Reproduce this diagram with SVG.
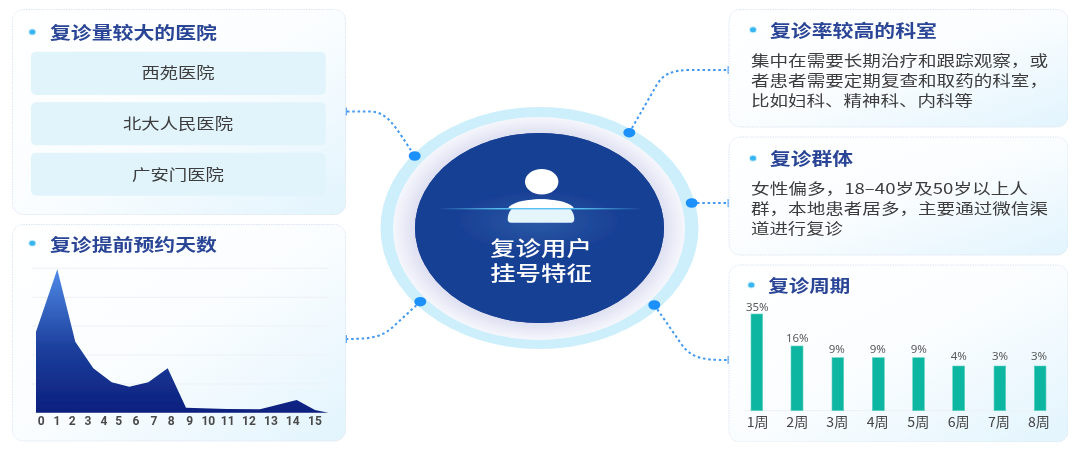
<svg xmlns="http://www.w3.org/2000/svg" width="1080" height="452" viewBox="0 0 1080 452">
<style>
text{font-family:"Noto Sans CJK SC","Noto Sans",sans-serif;}
text.hubt{font-family:"Liberation Sans","Noto Sans CJK SC",sans-serif;font-size:20px;fill:#ffffff;text-anchor:middle;font-weight:500;}
.card{fill:url(#cardG);stroke:#dce5f2;stroke-width:1;stroke-dasharray:1.5 1;}
.row{fill:#e1f4fc;}
.title{font-size:17px;font-weight:700;fill:#2a4596;dominant-baseline:central;}
.body{font-size:15px;fill:#3c3c3c;dominant-baseline:central;}
.rowt{font-size:15px;fill:#3c3c3c;text-anchor:middle;dominant-baseline:central;}
.bullet{fill:#38b6f1;stroke:#38b6f1;stroke-opacity:.25;stroke-width:2;}
.grid{stroke:#eef1f4;stroke-width:1;}
text.ax{font-family:"Roboto","Liberation Sans",sans-serif;font-size:12px;font-weight:700;fill:#4a4a4a;text-anchor:middle;dominant-baseline:central;}
.bar{fill:#10b6a0;stroke:#5fd4c4;stroke-width:.6;}
text.pct{font-family:"Noto Sans",sans-serif;font-size:11.500px;fill:#5a5a5a;text-anchor:middle;dominant-baseline:central;}
.wk{font-size:13.500px;fill:#444;text-anchor:middle;dominant-baseline:central;}
.link{fill:none;stroke:#3f98f2;stroke-width:2;stroke-dasharray:2.500 2.800;}
.tick{fill:#62aaf8;}
.dot{fill:#1f90fb;}
</style>
<defs>
<linearGradient id="cardG" x1="0" y1="0" x2="1" y2="1"><stop offset="0" stop-color="#ffffff"/><stop offset=".5" stop-color="#fafdff"/><stop offset="1" stop-color="#e2f4fd"/></linearGradient>
<linearGradient id="areaG" x1="0" y1="0" x2="0" y2="1"><stop offset="0" stop-color="#4f8ae8"/><stop offset=".55" stop-color="#1c3f9c"/><stop offset="1" stop-color="#0c1f7e"/></linearGradient>
<radialGradient id="midG" cx=".5" cy=".5" r=".5"><stop offset="0" stop-color="#c9cce6"/><stop offset=".82" stop-color="#d9dbef"/><stop offset="1" stop-color="#f6f7fc"/></radialGradient>
<radialGradient id="glow" cx="539" cy="222" r="85" gradientUnits="userSpaceOnUse" gradientTransform="translate(539 222) scale(1 .38) translate(-539 -222)"><stop offset="0" stop-color="#2a5aa6"/><stop offset="1" stop-color="#183f94"/></radialGradient>
<linearGradient id="beam"><stop offset="0" stop-color="#54c0f0" stop-opacity="0"/><stop offset=".3" stop-color="#54c0f0"/><stop offset=".7" stop-color="#54c0f0"/><stop offset="1" stop-color="#54c0f0" stop-opacity="0"/></linearGradient>
<filter id="soft" x="0" y="0" width="100%" height="100%"><feGaussianBlur stdDeviation="0.45"/></filter>
</defs>
<rect width="1080" height="452" fill="#ffffff"/>
<g filter="url(#soft)">
<g id="connectors">
<path class="link" d="M347 111.500H370C388 111.500 396 128 414.700 156"/>
<path class="link" d="M629.300 132.700L655 88C662 74 672 70 690 70H728"/>
<path class="link" d="M691.700 203H728"/>
<path class="link" d="M654.300 305L682 345C692 358 702 360 728 360"/>
<path class="link" d="M420.300 301.700L395 325C383 337 372 339 347 339"/>
<rect class="tick" x="344.500" y="107.500" width="2.500" height="8"/>
<rect class="tick" x="344.500" y="335" width="2.500" height="8"/>
<rect class="tick" x="727.500" y="66" width="2.500" height="8"/>
<rect class="tick" x="727.500" y="199" width="2.500" height="8"/>
<rect class="tick" x="727.500" y="356" width="2.500" height="8"/>
</g>
<g id="hub">
<ellipse cx="539.500" cy="228" rx="159" ry="121" fill="#cdeffc"/>
<ellipse cx="539" cy="228.500" rx="146" ry="111.500" fill="url(#midG)"/>
<ellipse cx="539.500" cy="228" rx="124.500" ry="95" fill="#183f94"/>
<ellipse cx="539.500" cy="228" rx="124.500" ry="95" fill="url(#glow)"/>
<ellipse cx="541.700" cy="181.700" rx="16.700" ry="12.700" fill="#ffffff"/>
<path d="M507.700 219C507.700 208 520 199.300 541 199.300C562 199.300 574.300 208 574.300 219Q574.300 222.700 571 222.700H511Q507.700 222.700 507.700 219Z" fill="#e4f5fc"/>
<path d="M507.700 208.700C511 203 523 199.300 541 199.300C559 199.300 571 203 574.300 208.700Z" fill="#ffffff"/>
<rect x="437" y="208" width="206" height="1.400" fill="url(#beam)"/>
<text class="hubt" transform="translate(541 0) scale(1.270 1)"><tspan x="0" y="256.500">复诊用户</tspan><tspan x="0" y="281">挂号特征</tspan></text>
</g>
<g id="dots">
<ellipse class="dot" cx="414.700" cy="156" rx="6" ry="4.800"/>
<ellipse class="dot" cx="629.300" cy="132.700" rx="6" ry="4.800"/>
<ellipse class="dot" cx="691.700" cy="203" rx="6" ry="4.800"/>
<ellipse class="dot" cx="654.300" cy="305" rx="6" ry="4.800"/>
<ellipse class="dot" cx="420.300" cy="301.700" rx="6" ry="4.800"/>
</g>
<g id="card-hospitals">
<rect class="card" x="12.500" y="9.500" width="333" height="205" rx="11"/>
<ellipse class="bullet" cx="32.300" cy="32" rx="3" ry="2.500"/>
<text class="title" x="50" y="31" textLength="167" lengthAdjust="spacingAndGlyphs">复诊量较大的医院</text>
<rect class="row" x="31" y="51.700" width="294.700" height="43.300" rx="5"/>
<rect class="row" x="31" y="102.300" width="294.700" height="43" rx="5"/>
<rect class="row" x="31" y="152.700" width="294.700" height="43" rx="5"/>
<text class="rowt" x="178" y="71.700" textLength="73" lengthAdjust="spacingAndGlyphs">西苑医院</text>
<text class="rowt" x="178" y="122.500" textLength="110" lengthAdjust="spacingAndGlyphs">北大人民医院</text>
<text class="rowt" x="178" y="173" textLength="92" lengthAdjust="spacingAndGlyphs">广安门医院</text>
</g>
<g id="card-days">
<rect class="card" x="12.500" y="224.500" width="333" height="216.500" rx="11"/>
<ellipse class="bullet" cx="32.300" cy="243.300" rx="3" ry="2.500"/>
<text class="title" x="50" y="243" textLength="167" lengthAdjust="spacingAndGlyphs">复诊提前预约天数</text>
<path class="grid" d="M32 268.300H328M32 297.300H328M32 326H328M32 355H328M32 384H328M32 412.700H328" fill="none"/>
<path d="M36 331.700L57.300 269.300L75.300 341.700L93.300 368.300L111.700 382.300L129.300 386.700L148.300 382.300L167.700 368.300L186 407.700L226.700 409L260 409.300L296.700 400L315 410L328.300 412.700H36Z" fill="url(#areaG)"/>
<text class="ax" x="41.300" y="421">0</text><text class="ax" x="57" y="421">1</text><text class="ax" x="72.300" y="421">2</text><text class="ax" x="88" y="421">3</text><text class="ax" x="104" y="421">4</text><text class="ax" x="118.700" y="421">5</text><text class="ax" x="136" y="421">6</text><text class="ax" x="154" y="421">7</text><text class="ax" x="171.300" y="421">8</text><text class="ax" x="189.700" y="421">9</text><text class="ax" x="208.300" y="421">10</text><text class="ax" x="227.700" y="421">11</text><text class="ax" x="249" y="421">12</text><text class="ax" x="271" y="421">13</text><text class="ax" x="292.700" y="421">14</text><text class="ax" x="315" y="421">15</text>
</g>
<g id="card-depts">
<rect class="card" x="729" y="9.500" width="339" height="117.500" rx="11"/>
<ellipse class="bullet" cx="753" cy="29.700" rx="3" ry="2.500"/>
<text class="title" x="770" y="29" textLength="167" lengthAdjust="spacingAndGlyphs">复诊率较高的科室</text>
<text class="body" x="751" y="59.500" textLength="297" lengthAdjust="spacingAndGlyphs">集中在需要长期治疗和跟踪观察，或</text>
<text class="body" x="751" y="79.500" textLength="297" lengthAdjust="spacingAndGlyphs">者患者需要定期复查和取药的科室，</text>
<text class="body" x="751" y="99.500" textLength="222" lengthAdjust="spacingAndGlyphs">比如妇科、精神科、内科等</text>
</g>
<g id="card-group">
<rect class="card" x="729" y="137" width="339" height="118" rx="11"/>
<ellipse class="bullet" cx="753" cy="158.300" rx="3" ry="2.500"/>
<text class="title" x="770" y="157" textLength="83" lengthAdjust="spacingAndGlyphs">复诊群体</text>
<text class="body" x="751" y="187" textLength="277" lengthAdjust="spacingAndGlyphs">女性偏多，18–40岁及50岁以上人</text>
<text class="body" x="751" y="207" textLength="297" lengthAdjust="spacingAndGlyphs">群，本地患者居多，主要通过微信渠</text>
<text class="body" x="751" y="227" textLength="92" lengthAdjust="spacingAndGlyphs">道进行复诊</text>
</g>
<g id="card-cycle">
<rect class="card" x="729" y="265" width="339" height="177" rx="11"/>
<ellipse class="bullet" cx="751.300" cy="285" rx="3" ry="2.500"/>
<text class="title" x="768.300" y="284.500" textLength="82" lengthAdjust="spacingAndGlyphs">复诊周期</text>
<path class="grid" d="M745 410.700H1052" fill="none"/>
<rect class="bar" x="751" y="314" width="11.700" height="96.700"/>
<rect class="bar" x="791" y="346" width="12" height="64.700"/>
<rect class="bar" x="832" y="357.700" width="11.700" height="53"/>
<rect class="bar" x="872.300" y="357.700" width="12" height="53"/>
<rect class="bar" x="912.700" y="357.700" width="11.700" height="53"/>
<rect class="bar" x="952.700" y="366" width="12" height="44.700"/>
<rect class="bar" x="994" y="366" width="11.700" height="44.700"/>
<rect class="bar" x="1034.300" y="366" width="11.700" height="44.700"/>
<text class="pct" x="757.300" y="306">35%</text><text class="pct" x="797.300" y="337.500">16%</text><text class="pct" x="836.700" y="348.500">9%</text><text class="pct" x="877.700" y="348.500">9%</text><text class="pct" x="918.700" y="348.500">9%</text><text class="pct" x="958.700" y="355.500">4%</text><text class="pct" x="1000" y="355.500">3%</text><text class="pct" x="1039" y="355.500">3%</text>
<text class="wk" x="757.700" y="421" textLength="22" lengthAdjust="spacingAndGlyphs">1周</text><text class="wk" x="797.300" y="421" textLength="22" lengthAdjust="spacingAndGlyphs">2周</text><text class="wk" x="837.300" y="421" textLength="22" lengthAdjust="spacingAndGlyphs">3周</text><text class="wk" x="877.700" y="421" textLength="22" lengthAdjust="spacingAndGlyphs">4周</text><text class="wk" x="918.300" y="421" textLength="22" lengthAdjust="spacingAndGlyphs">5周</text><text class="wk" x="958.700" y="421" textLength="22" lengthAdjust="spacingAndGlyphs">6周</text><text class="wk" x="999" y="421" textLength="22" lengthAdjust="spacingAndGlyphs">7周</text><text class="wk" x="1039" y="421" textLength="22" lengthAdjust="spacingAndGlyphs">8周</text>
</g>
</g>
</svg>
